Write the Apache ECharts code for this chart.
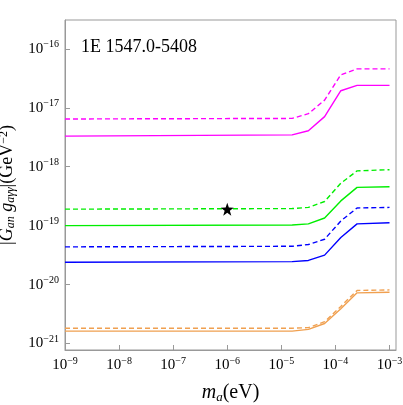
<!DOCTYPE html><html><head><meta charset="utf-8"><script src="https://cdn.jsdelivr.net/npm/echarts@6/dist/echarts.min.js"></script>
<style>html,body{margin:0;padding:0;background:#fff}#c{width:403px;height:405px}</style></head><body><div id="c"></div><script>
// log10 of mass (eV) and log10 of coupling (GeV^-2)
const logMass = [-9, -4.8, -4.5, -4.2, -3.9, -3.6, -3];
const magentaDashed = [-17.19, -17.18, -17.10, -16.87, -16.44, -16.34, -16.34];
const magentaSolid  = [-17.48, -17.46, -17.39, -17.15, -16.71, -16.62, -16.62];
const greenDashed   = [-18.72, -18.71, -18.69, -18.59, -18.28, -18.07, -18.05];
const greenSolid    = [-19.00, -18.99, -18.97, -18.87, -18.58, -18.35, -18.34];
const blueDashed    = [-19.36, -19.35, -19.32, -19.23, -18.92, -18.70, -18.69];
const blueSolid     = [-19.62, -19.61, -19.59, -19.50, -19.20, -18.97, -18.95];
const orangeDashed  = [-20.74, -20.74, -20.73, -20.63, -20.37, -20.10, -20.09];
const orangeSolid   = [-20.79, -20.79, -20.76, -20.66, -20.41, -20.14, -20.13];
const starPoint = [-6, -18.72];
const title = '1E 1547.0-5408';

const toPts = ys => logMass.map((x,i)=>[Math.pow(10,x), Math.pow(10,ys[i])]);
const sup = {fontSize:10, verticalAlign:'top', padding:[0,0,9,0], fontFamily:'Liberation Serif', color:'#000'};
const fmt = v => '10{s|' + (Math.round(Math.log10(v))).toString().replace('-','−') + '}';
const mk = (name, ys, color, dashed) => ({type:'line', name, data: toPts(ys), symbol:'none',
  lineStyle:{color, width:1.4, type: dashed?[5,3]:'solid'}, silent:true});
const chart = echarts.init(document.getElementById('c'));
chart.setOption({
  animation:false,
  grid:{left:65, right:7, top:20, bottom:55, show:true, borderColor:'#999', borderWidth:1, containLabel:false, outerBoundsMode:'none'},
  title:{text:title, left:76, top:33, textStyle:{fontFamily:'Liberation Serif', fontSize:18, fontWeight:'normal', color:'#000'}},
  xAxis:{type:'log', logBase:10, min:1e-9, max:Math.pow(10,-2.88),
    axisLine:{lineStyle:{color:'#999'}}, axisTick:{inside:true, length:5, lineStyle:{color:'#999'}},
    splitLine:{show:false},
    axisLabel:{formatter:fmt, margin:6, fontFamily:'Liberation Serif', fontSize:15, color:'#000', rich:{s:sup}, showMaxLabel:false},
    name:'{i|m}{sb|a}(eV)', nameLocation:'middle', nameGap:32,
    nameTextStyle:{fontFamily:'Liberation Serif', fontSize:20, color:'#000', rich:{i:{fontStyle:'italic',fontSize:20,fontFamily:'Liberation Serif'}, sb:{fontStyle:'italic',fontSize:13,verticalAlign:'bottom',padding:[9,0,0,0],fontFamily:'Liberation Serif'}}}},
  yAxis:{type:'log', logBase:10, min:Math.pow(10,-21.11), max:Math.pow(10,-15.51),
    axisLine:{lineStyle:{color:'#999'}}, axisTick:{inside:true, length:5, lineStyle:{color:'#999'}},
    splitLine:{show:false},
    axisLabel:{formatter:fmt, margin:6, fontFamily:'Liberation Serif', fontSize:15, color:'#000', rich:{s:sup}, showMinLabel:false, showMaxLabel:false},
    name:'|{i|G}{sb|an} {i|g}{sb|aγγ}|(GeV{sp|−2})', nameLocation:'middle', nameGap:48,
    nameTextStyle:{fontFamily:'Liberation Serif', fontSize:18, color:'#000', rich:{i:{fontStyle:'italic',fontSize:18,fontFamily:'Liberation Serif'}, sb:{fontStyle:'italic',fontSize:12,verticalAlign:'bottom',padding:[7,0,0,0],fontFamily:'Liberation Serif'}, sp:{fontSize:12,verticalAlign:'top',padding:[0,0,7,0],fontFamily:'Liberation Serif'}}}},
  series:[
    mk('md', magentaDashed, '#ff00ff', true), mk('ms', magentaSolid, '#ff00ff', false),
    mk('gd', greenDashed, '#00ee00', true), mk('gs', greenSolid, '#00ee00', false),
    mk('bd', blueDashed, '#0000ff', true), mk('bs', blueSolid, '#0000ff', false),
    mk('od', orangeDashed, '#f0a050', true), mk('os', orangeSolid, '#f0a050', false),
    {type:'scatter', data:[[Math.pow(10,starPoint[0]), Math.pow(10,starPoint[1])]], symbol:'path://M0,-10 L2.35,-3.24 L9.51,-3.09 L3.8,1.24 L5.88,8.09 L0,4 L-5.88,8.09 L-3.8,1.24 L-9.51,-3.09 L-2.35,-3.24 Z', symbolSize:13, itemStyle:{color:'#000', borderWidth:0, opacity:1}, silent:true, z:5}
  ]
});
</script></body></html>
